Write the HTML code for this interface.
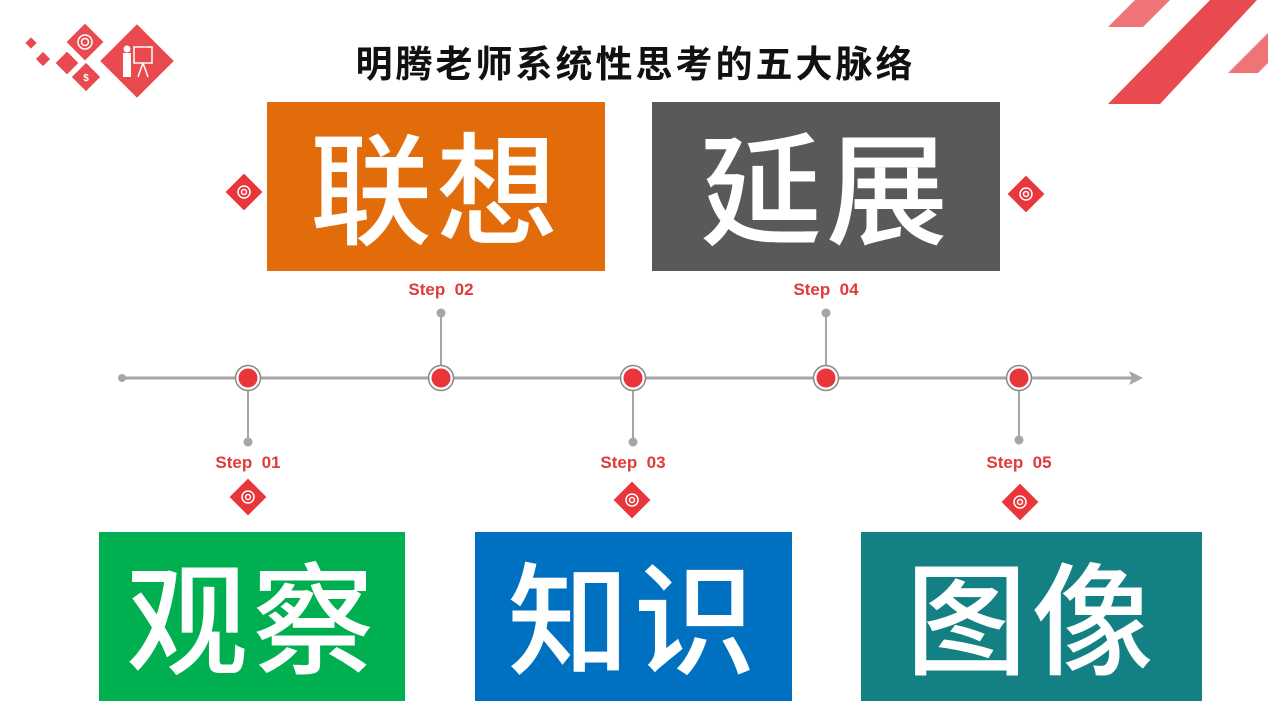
<!DOCTYPE html>
<html><head><meta charset="utf-8"><style>
body{margin:0;width:1268px;height:714px;background:#fff;position:relative;overflow:hidden;font-family:"Liberation Sans","Noto Sans CJK SC",sans-serif}
.t{position:absolute;left:0;width:1268px;top:34px;text-align:center;font-size:37px;font-weight:bold;color:#111;letter-spacing:3px;text-indent:3px}
.b{position:absolute;color:#fff;font-size:122px;font-weight:500;display:flex;align-items:center;justify-content:center;letter-spacing:4px;font-family:"Noto Sans CJK SC",sans-serif}
.b span{position:relative;top:-4px}
.s{position:absolute;color:#E03A3C;font-weight:bold;font-size:17px;width:100px;text-align:center}
</style></head><body>
<svg width="1268" height="714" style="position:absolute;left:0;top:0">
<g fill="#E84A4F">
<polygon points="1108,104 1160,104 1257,0 1210,0"/>
</g>
<g fill="#EE7477">
<polygon points="1108,27 1143,27 1170,0 1135,0"/>
<polygon points="1228,73 1258,73 1268,63 1268,33"/>
</g>
<g fill="#E84A4F">
<rect x="27" y="39" width="8" height="8" transform="rotate(45 31 43)"/>
<rect x="38" y="54" width="10" height="10" transform="rotate(45 43 59)"/>
<rect x="59" y="55" width="16" height="16" transform="rotate(45 67 63)"/>
<rect x="72" y="29" width="26" height="26" transform="rotate(45 85 42)"/>
<rect x="76" y="67" width="20" height="20" transform="rotate(45 86 77)"/>
<rect x="111" y="35" width="52" height="52" transform="rotate(45 137 61)"/>
</g>
<g fill="none" stroke="#fff" stroke-width="1.5">
<circle cx="85" cy="42" r="7"/><circle cx="85" cy="42" r="3.5"/>
<rect x="134" y="47" width="18" height="16"/><line x1="143" y1="63" x2="138" y2="77"/><line x1="143" y1="63" x2="148" y2="77"/>
</g>
<rect x="123" y="53" width="8" height="24" fill="#fff"/><circle cx="127" cy="49" r="3.5" fill="#fff"/>
<text x="86" y="81" font-size="10" fill="#fff" text-anchor="middle" font-weight="bold">$</text>
<line x1="122" y1="378" x2="1136" y2="378" stroke="#A6A6A6" stroke-width="3"/>
<circle cx="122" cy="378" r="4" fill="#A6A6A6"/>
<polygon points="1143,378 1129,371 1132,378 1129,385" fill="#A6A6A6"/>
<g stroke="#A6A6A6" stroke-width="2" fill="#A6A6A6">
<line x1="248" y1="378" x2="248" y2="442"/><circle cx="248" cy="442" r="3.5"/>
<line x1="633" y1="378" x2="633" y2="442"/><circle cx="633" cy="442" r="3.5"/>
<line x1="1019" y1="378" x2="1019" y2="440"/><circle cx="1019" cy="440" r="3.5"/>
<line x1="441" y1="378" x2="441" y2="313"/><circle cx="441" cy="313" r="3.5"/>
<line x1="826" y1="378" x2="826" y2="313"/><circle cx="826" cy="313" r="3.5"/>
</g>
<g>
<circle cx="248" cy="378" r="12.5" fill="#fff" stroke="#888" stroke-width="1.5"/><circle cx="248" cy="378" r="9.5" fill="#E8363B"/>
<circle cx="441" cy="378" r="12.5" fill="#fff" stroke="#888" stroke-width="1.5"/><circle cx="441" cy="378" r="9.5" fill="#E8363B"/>
<circle cx="633" cy="378" r="12.5" fill="#fff" stroke="#888" stroke-width="1.5"/><circle cx="633" cy="378" r="9.5" fill="#E8363B"/>
<circle cx="826" cy="378" r="12.5" fill="#fff" stroke="#888" stroke-width="1.5"/><circle cx="826" cy="378" r="9.5" fill="#E8363B"/>
<circle cx="1019" cy="378" r="12.5" fill="#fff" stroke="#888" stroke-width="1.5"/><circle cx="1019" cy="378" r="9.5" fill="#E8363B"/>
</g>
<g fill="#E8363B">
<rect x="235" y="484" width="26" height="26" transform="rotate(45 248 497)"/>
<rect x="619" y="487" width="26" height="26" transform="rotate(45 632 500)"/>
<rect x="1007" y="489" width="26" height="26" transform="rotate(45 1020 502)"/>
<rect x="231" y="179" width="26" height="26" transform="rotate(45 244 192)"/>
<rect x="1013" y="181" width="26" height="26" transform="rotate(45 1026 194)"/>
</g>
<g fill="none" stroke="#fff" stroke-width="1.5">
<circle cx="248" cy="497" r="6"/><circle cx="248" cy="497" r="2.5"/>
<circle cx="632" cy="500" r="6"/><circle cx="632" cy="500" r="2.5"/>
<circle cx="1020" cy="502" r="6"/><circle cx="1020" cy="502" r="2.5"/>
<circle cx="244" cy="192" r="6"/><circle cx="244" cy="192" r="2.5"/>
<circle cx="1026" cy="194" r="6"/><circle cx="1026" cy="194" r="2.5"/>
</g>
</svg>
<div class="t">明腾老师系统性思考的五大脉络</div>
<div class="b" style="left:267px;top:102px;width:338px;height:169px;background:#E36C0A"><span>联想</span></div>
<div class="b" style="left:652px;top:102px;width:348px;height:169px;background:#595959"><span>延展</span></div>
<div class="b" style="left:99px;top:532px;width:306px;height:169px;background:#00B050"><span>观察</span></div>
<div class="b" style="left:475px;top:532px;width:317px;height:169px;background:#0070C0"><span>知识</span></div>
<div class="b" style="left:861px;top:532px;width:341px;height:169px;background:#138084"><span>图像</span></div>
<div class="s" style="left:198px;top:453px">Step&nbsp; 01</div>
<div class="s" style="left:391px;top:280px">Step&nbsp; 02</div>
<div class="s" style="left:583px;top:453px">Step&nbsp; 03</div>
<div class="s" style="left:776px;top:280px">Step&nbsp; 04</div>
<div class="s" style="left:969px;top:453px">Step&nbsp; 05</div>
</body></html>
